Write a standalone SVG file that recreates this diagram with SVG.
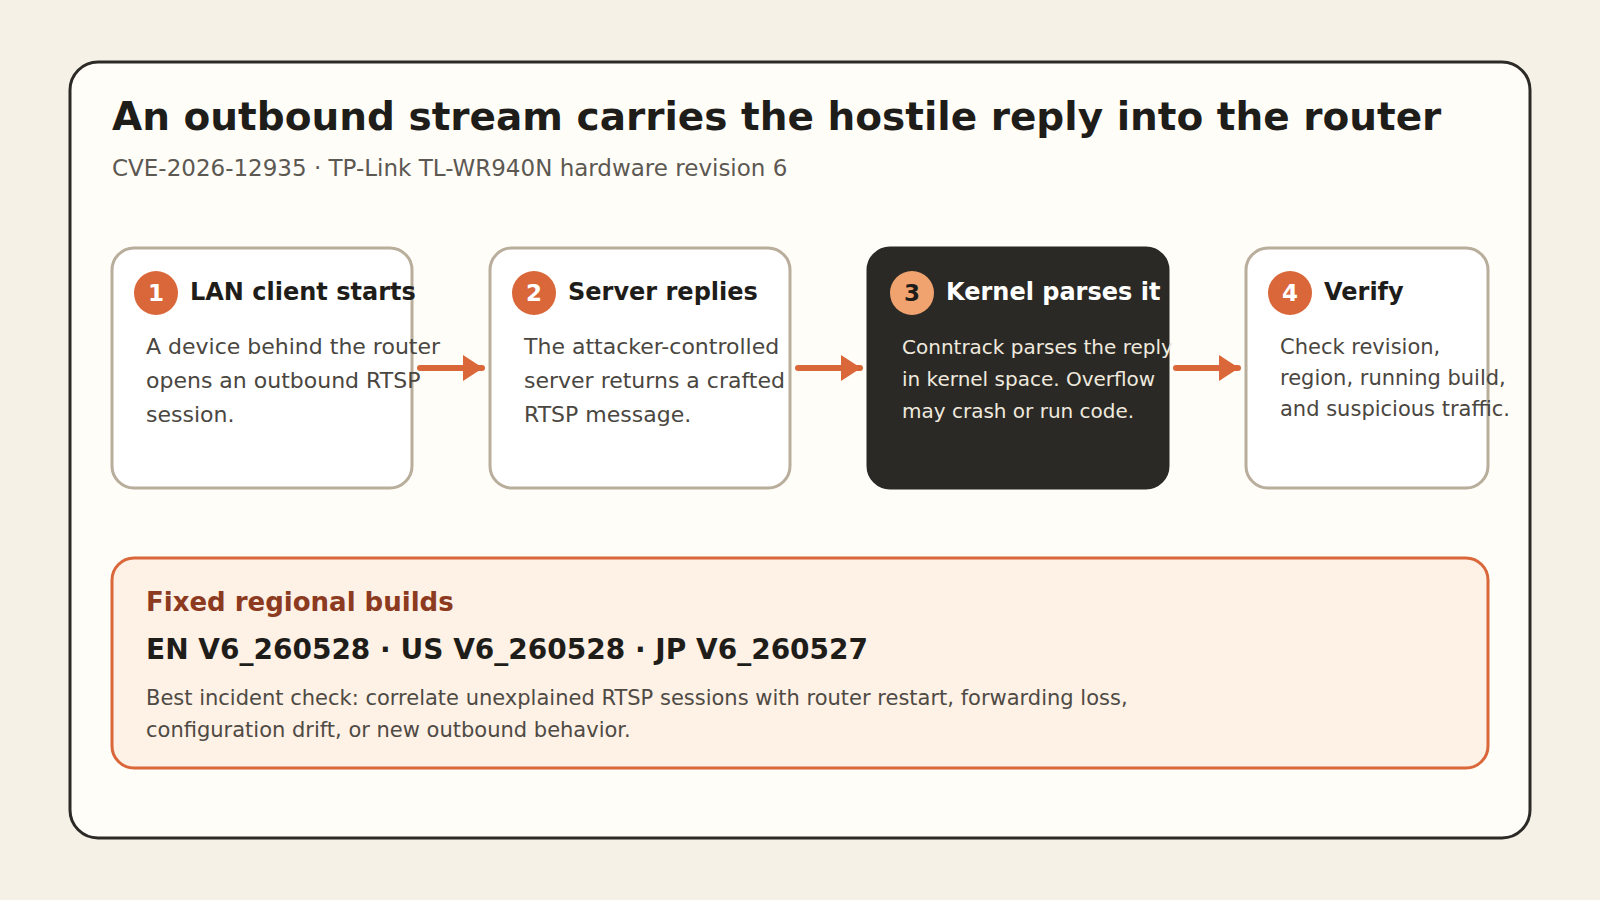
<svg xmlns="http://www.w3.org/2000/svg" width="1600" height="900" viewBox="0 0 1600 900">
<defs>
<style>
text{font-family:"DejaVu Sans","Liberation Sans",sans-serif}
.card{fill:#ffffff;stroke:#b9ad9c;stroke-width:3}
.dark{fill:#2b2925;stroke:#2b2925;stroke-width:3}
.badge{fill:#d9673a}
.badge3{fill:#f0a36f}
.num{font-size:23px;font-weight:bold;fill:#ffffff;text-anchor:middle}
.ttl{font-size:24px;font-weight:bold;fill:#1f1d1a}
.body{font-size:22px;fill:#4a4640}
.conn{stroke:#d9673a;stroke-width:6;stroke-linecap:round;fill:none}
</style>
<marker id="ah" viewBox="0 0 20 26" refX="19" refY="13" markerWidth="20" markerHeight="26" orient="auto" markerUnits="userSpaceOnUse">
<path d="M0,0 L20,13 L0,26 Z" fill="#d9673a"/>
</marker>
</defs>
<rect width="1600" height="900" fill="#f5f1e7"/>
<rect x="70" y="62" width="1460" height="776" rx="28" fill="#fffdf8" stroke="#2b2a27" stroke-width="3"/>
<text x="112" y="130" font-size="39" font-weight="bold" fill="#1f1d1a">An outbound stream carries the hostile reply into the router</text>
<text x="112" y="176" font-size="23" fill="#5c5852">CVE-2026-12935 · TP-Link TL-WR940N hardware revision 6</text>

<g id="connectors">
<line class="conn" x1="420" y1="368" x2="482" y2="368" marker-end="url(#ah)"/>
<line class="conn" x1="798" y1="368" x2="860" y2="368" marker-end="url(#ah)"/>
<line class="conn" x1="1176" y1="368" x2="1238" y2="368" marker-end="url(#ah)"/>
</g>

<g id="step1">
<rect class="card" x="112" y="248" width="300" height="240" rx="22"/>
<circle class="badge" cx="156" cy="293" r="22"/>
<text class="num" x="156" y="301">1</text>
<text class="ttl" x="190" y="300">LAN client starts</text>
<text class="body" x="146" y="354">A device behind the router</text>
<text class="body" x="146" y="388">opens an outbound RTSP</text>
<text class="body" x="146" y="422">session.</text>
</g>

<g id="step2">
<rect class="card" x="490" y="248" width="300" height="240" rx="22"/>
<circle class="badge" cx="534" cy="293" r="22"/>
<text class="num" x="534" y="301">2</text>
<text class="ttl" x="568" y="300">Server replies</text>
<text class="body" x="524" y="354">The attacker-controlled</text>
<text class="body" x="524" y="388">server returns a crafted</text>
<text class="body" x="524" y="422">RTSP message.</text>
</g>

<g id="step3">
<rect class="dark" x="868" y="248" width="300" height="240" rx="22"/>
<circle class="badge3" cx="912" cy="293" r="22"/>
<text class="num" x="912" y="301" style="fill:#1f1d1a">3</text>
<text class="ttl" x="946" y="300" style="fill:#ffffff">Kernel parses it</text>
<text class="body" x="902" y="354" style="font-size:20px;fill:#efe9df">Conntrack parses the reply</text>
<text class="body" x="902" y="386" style="font-size:20px;fill:#efe9df">in kernel space. Overflow</text>
<text class="body" x="902" y="418" style="font-size:20px;fill:#efe9df">may crash or run code.</text>
</g>

<g id="step4">
<rect class="card" x="1246" y="248" width="242" height="240" rx="22"/>
<circle class="badge" cx="1290" cy="293" r="22"/>
<text class="num" x="1290" y="301">4</text>
<text class="ttl" x="1324" y="300">Verify</text>
<text class="body" x="1280" y="354" style="font-size:21px">Check revision,</text>
<text class="body" x="1280" y="385" style="font-size:21px">region, running build,</text>
<text class="body" x="1280" y="416" style="font-size:21px">and suspicious traffic.</text>
</g>

<g id="fixed-builds">
<rect x="112" y="558" width="1376" height="210" rx="22" fill="#fef1e6" stroke="#d9673a" stroke-width="3"/>
<text x="146" y="611" font-size="26" font-weight="bold" fill="#8c3a20">Fixed regional builds</text>
<text x="146" y="659" font-size="28" font-weight="bold" fill="#1f1d1a">EN V6_260528 · US V6_260528 · JP V6_260527</text>
<text x="146" y="705" font-size="21" fill="#4e4a44">Best incident check: correlate unexplained RTSP sessions with router restart, forwarding loss,</text>
<text x="146" y="737" font-size="21" fill="#4e4a44">configuration drift, or new outbound behavior.</text>
</g>
</svg>
